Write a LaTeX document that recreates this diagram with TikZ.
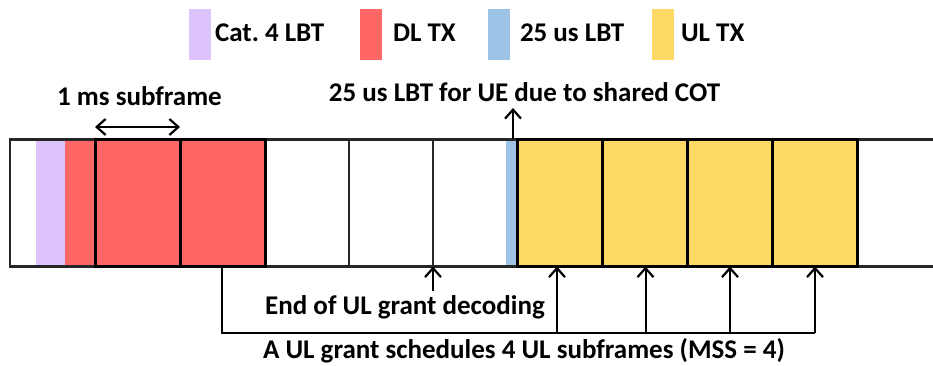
\documentclass[tikz,border=0pt]{standalone}
\usepackage{fontspec}
\setmainfont{Carlito}
\usetikzlibrary{arrows.meta}
\definecolor{lbtcat}{HTML}{DCC3FC}
\definecolor{dltx}{HTML}{FF6666}
\definecolor{lbtshort}{HTML}{9DC3E6}
\definecolor{ultx}{HTML}{FFD966}
\definecolor{gridline}{HTML}{262626}
\begin{document}
\frenchspacing
\begin{tikzpicture}[x=1pt,y=-1pt,
  lbl/.style={font=\bfseries\fontsize{27}{30}\selectfont, inner sep=0pt, outer sep=0pt},
  swatch/.style={fill=#1, draw=none, minimum width=22pt, minimum height=51pt, inner sep=0pt, outer sep=0pt, anchor=north west},
  sub/.style={fill=#1, draw=black, line width=3pt, minimum width=85pt, minimum height=127pt, inner sep=0pt, outer sep=0pt, anchor=north west},
  thin/.style={draw=gridline, line width=2.2pt},
  arr/.style={line width=2pt, -{Straight Barb[length=9pt,width=16pt,line width=2.2pt]}},
  darr/.style={line width=2pt, {Straight Barb[length=9pt,width=16pt,line width=2.2pt]}-{Straight Barb[length=9pt,width=16pt,line width=2.2pt]}},
  br/.style={line width=2pt}]
\useasboundingbox (0,0) rectangle (933,366);

% legend
\node[swatch=lbtcat] (sw1) at (189,9) {};
\node[lbl, anchor=base west] (lg1) at (215,42) {Cat.\ 4 LBT};
\node[swatch=dltx] (sw2) at (360,9) {};
\node[lbl, anchor=base west] (lg2) at (393,42) {DL TX};
\node[swatch=lbtshort] (sw3) at (488,9) {};
\node[lbl, anchor=base west] (lg3) at (520,42) {25 us LBT};
\node[swatch=ultx] (sw4) at (652,9) {};
\node[lbl, anchor=base west] (lg4) at (681,42) {UL TX};

% bar fills
\node[fill=lbtcat, minimum width=29pt, minimum height=127pt, inner sep=0pt, outer sep=0pt, anchor=north west] (cat4) at (36,139.5) {};
\node[fill=dltx, minimum width=30pt, minimum height=127pt, inner sep=0pt, outer sep=0pt, anchor=north west] (dl0) at (65,139.5) {};
\node[fill=lbtshort, minimum width=11pt, minimum height=127pt, inner sep=0pt, outer sep=0pt, anchor=north west] (lbt25) at (506,139.5) {};

% bar outline
\draw[thin] (933,139.5) -- (10,139.5) -- (10,266.5) -- (933,266.5);
\draw[thin] (349,139.5) -- (349,266.5);
\draw[thin] (433,139.5) -- (433,266.5);
\coordinate (decend) at (433,266.5);

% subframes
\node[sub=dltx] (dl1) at (95,139.5) {};
\node[sub=dltx] (dl2) at (180,139.5) {};
\node[sub=ultx] (ul1) at (517,139.5) {};
\node[sub=ultx] (ul2) at (602.5,139.5) {};
\node[sub=ultx] (ul3) at (687.5,139.5) {};
\node[sub=ultx] (ul4) at (772.5,139.5) {};

% 1 ms subframe
\node[lbl, anchor=base] (onems) at (139.5,106) {1 ms subframe};
\coordinate (dA) at (95,127);
\coordinate (dB) at (180,127);
\draw[darr] (dA) -- (dB);

% shared COT
\node[lbl, anchor=base] (cot) at (524.5,102) {25 us LBT for UE due to shared COT};
\coordinate (cotS) at (513,139.5);
\coordinate (cotE) at (513,108);
\draw[arr] (cotS) -- (cotE);

% end of UL grant decoding
\node[lbl, anchor=base] (endul) at (405,314) {End of UL grant decoding};
\coordinate (decS) at (433,291);
\draw[arr] (decS) -- (decend);

% bracket
\coordinate (brTop) at (222,266.5);
\coordinate (brBot) at (222,332.5);
\coordinate (b1) at (557,332.5);
\coordinate (b2) at (645.5,332.5);
\coordinate (b3) at (730,332.5);
\coordinate (b4) at (815,332.5);
\draw[br] (brTop) -- (brBot) -- (b4);
\draw[arr] (b1) -- (b1 |- ul1.south);
\draw[arr] (b2) -- (b2 |- ul2.south);
\draw[arr] (b3) -- (b3 |- ul3.south);
\draw[arr] (b4) -- (b4 |- ul4.south);

\node[lbl, anchor=base] (grant) at (524,358) {A UL grant schedules 4 UL subframes (MSS = 4)};
\end{tikzpicture}
\end{document}
